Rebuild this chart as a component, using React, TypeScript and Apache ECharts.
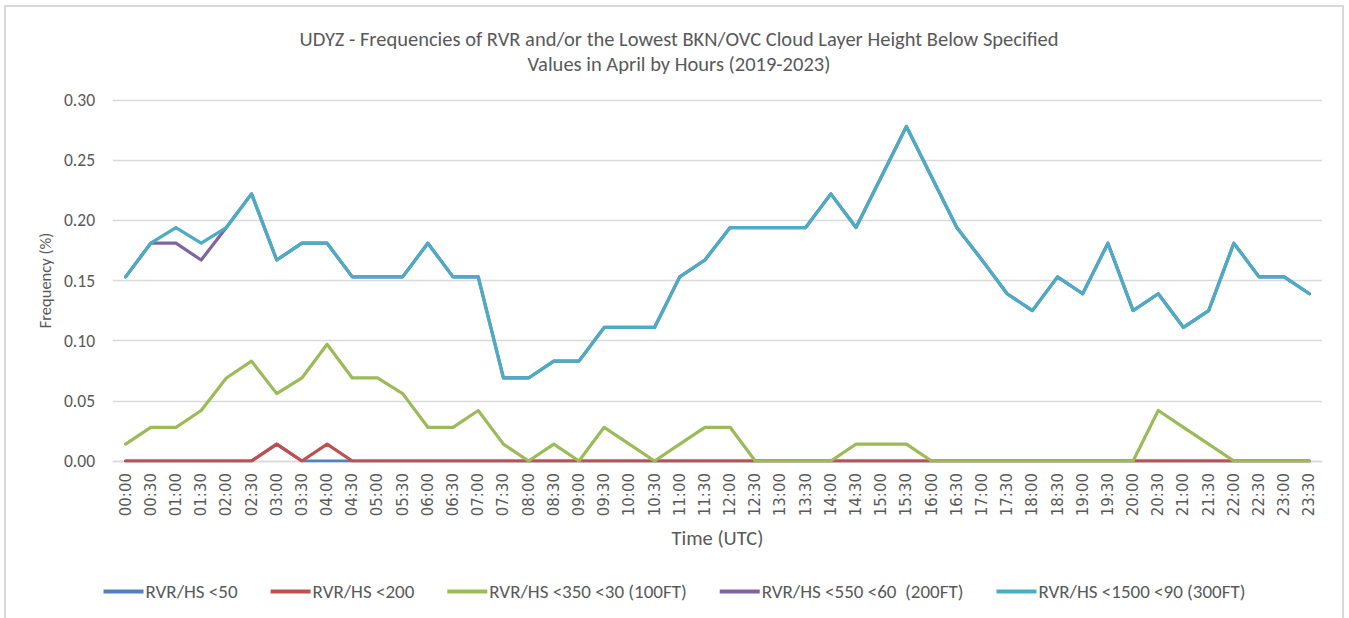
import React, { useEffect, useRef } from "react";
import * as echarts from "echarts";

const categories = [
  "00:00", "00:30", "01:00", "01:30", "02:00", "02:30", "03:00", "03:30",
  "04:00", "04:30", "05:00", "05:30", "06:00", "06:30", "07:00", "07:30",
  "08:00", "08:30", "09:00", "09:30", "10:00", "10:30", "11:00", "11:30",
  "12:00", "12:30", "13:00", "13:30", "14:00", "14:30", "15:00", "15:30",
  "16:00", "16:30", "17:00", "17:30", "18:00", "18:30", "19:00", "19:30",
  "20:00", "20:30", "21:00", "21:30", "22:00", "22:30", "23:00", "23:30",
];

const seriesNames = [
  "RVR/HS <50",
  "RVR/HS <200",
  "RVR/HS <350 <30 (100FT)",
  "RVR/HS <550 <60  (200FT)",
  "RVR/HS <1500 <90 (300FT)",
];

const rvr50 = [
  0, 0, 0, 0, 0, 0, 0.014, 0, 0, 0, 0, 0, 0, 0, 0, 0,
  0, 0, 0, 0, 0, 0, 0, 0, 0, 0, 0, 0, 0, 0, 0, 0,
  0, 0, 0, 0, 0, 0, 0, 0, 0, 0, 0, 0, 0, 0, 0, 0,
];

const rvr200 = [
  0, 0, 0, 0, 0, 0, 0.014, 0, 0.014, 0, 0, 0, 0, 0, 0, 0,
  0, 0, 0, 0, 0, 0, 0, 0, 0, 0, 0, 0, 0, 0, 0, 0,
  0, 0, 0, 0, 0, 0, 0, 0, 0, 0, 0, 0, 0, 0, 0, 0,
];

const rvr350 = [
  0.014, 0.028, 0.028, 0.042, 0.069, 0.083, 0.056, 0.069, 0.097, 0.069,
  0.069, 0.056, 0.028, 0.028, 0.042, 0.014, 0, 0.014, 0, 0.028,
  0.014, 0, 0.014, 0.028, 0.028, 0, 0, 0, 0, 0.014,
  0.014, 0.014, 0, 0, 0, 0, 0, 0, 0, 0,
  0, 0.042, 0.028, 0.014, 0, 0, 0, 0,
];

const rvr550 = [
  0.153, 0.181, 0.181, 0.167, 0.194, 0.222, 0.167, 0.181, 0.181, 0.153,
  0.153, 0.153, 0.181, 0.153, 0.153, 0.069, 0.069, 0.083, 0.083, 0.111,
  0.111, 0.111, 0.153, 0.167, 0.194, 0.194, 0.194, 0.194, 0.222, 0.194,
  0.236, 0.278, 0.236, 0.194, 0.167, 0.139, 0.125, 0.153, 0.139, 0.181,
  0.125, 0.139, 0.111, 0.125, 0.181, 0.153, 0.153, 0.139,
];

const rvr1500 = [
  0.153, 0.181, 0.194, 0.181, 0.194, 0.222, 0.167, 0.181, 0.181, 0.153,
  0.153, 0.153, 0.181, 0.153, 0.153, 0.069, 0.069, 0.083, 0.083, 0.111,
  0.111, 0.111, 0.153, 0.167, 0.194, 0.194, 0.194, 0.194, 0.222, 0.194,
  0.236, 0.278, 0.236, 0.194, 0.167, 0.139, 0.125, 0.153, 0.139, 0.181,
  0.125, 0.139, 0.111, 0.125, 0.181, 0.153, 0.153, 0.139,
];

const colors = ["#4F81BD", "#C0504D", "#9BBB59", "#8064A2", "#4BACC6"];

const FONT = "Calibri, Carlito, Lato, sans-serif";
const TEXT = "#595959";

export default function App() {
  const ref = useRef<HTMLDivElement>(null);

  useEffect(() => {
    document.body.style.margin = "0";
    if (!ref.current) return;
    const chart = echarts.init(ref.current, null, { renderer: "svg" });
    const data = [rvr50, rvr200, rvr350, rvr550, rvr1500];
    chart.setOption({
      animation: false,
      backgroundColor: "#ffffff",
      color: colors,
      title: {
        text:
          "UDYZ - Frequencies of RVR and/or the Lowest BKN/OVC Cloud Layer Height Below Specified\nValues in April by Hours (2019-2023)",
        left: 674,
        textAlign: "center",
        top: 21,
        textStyle: {
          fontFamily: FONT,
          fontSize: 20.5,
          fontWeight: "normal",
          color: TEXT,
          lineHeight: 25,
        },
      },
      legend: {
        bottom: 12,
        left: "center",
        icon: "rect",
        itemWidth: 40,
        itemHeight: 4,
        itemGap: 33,
        textStyle: { fontFamily: FONT, fontSize: 19, color: TEXT, padding: [0, 0, 0, -3] },
        data: seriesNames,
      },
      grid: { left: 113, right: 27, top: 100, bottom: 157, containLabel: false },
      xAxis: {
        type: "category",
        data: categories,
        boundaryGap: true,
        name: "Time (UTC)",
        nameLocation: "middle",
        nameGap: 66,
        nameTextStyle: { fontFamily: FONT, fontSize: 20.5, color: TEXT },
        axisLine: { lineStyle: { color: "#d9d9d9", width: 1.3 } },
        axisTick: { show: false },
        axisLabel: {
          rotate: 90,
          interval: 0,
          margin: 12,
          fontFamily: "DejaVu Sans, sans-serif",
          fontSize: 15,
          color: TEXT,
        },
      },
      yAxis: {
        type: "value",
        min: 0,
        max: 0.3,
        interval: 0.05,
        name: "Frequency (%)",
        nameLocation: "middle",
        nameGap: 60,
        nameTextStyle: { fontFamily: FONT, fontSize: 16.5, color: TEXT },
        axisLine: { show: false },
        axisTick: { show: false },
        splitLine: { lineStyle: { color: "#d9d9d9", width: 1.3 } },
        axisLabel: {
          margin: 18,
          fontFamily: FONT,
          fontSize: 17.5,
          color: TEXT,
          formatter: (v: number) => v.toFixed(2),
        },
      },
      graphic: [
        {
          type: "rect",
          shape: { x: 5, y: 6, width: 1338, height: 700 },
          style: { fill: "none", stroke: "#d9d9d9", lineWidth: 2 },
          silent: true,
        },
      ],
      series: data.map((d, i) => ({
        name: seriesNames[i],
        type: "line",
        data: d,
        symbol: "none",
        lineStyle: { width: 3.2, color: colors[i], cap: "round", join: "round" },
        itemStyle: { color: colors[i] },
      })),
    });
    return () => chart.dispose();
  }, []);

  return <div ref={ref} style={{ width: 1349, height: 618 }} />;
}
